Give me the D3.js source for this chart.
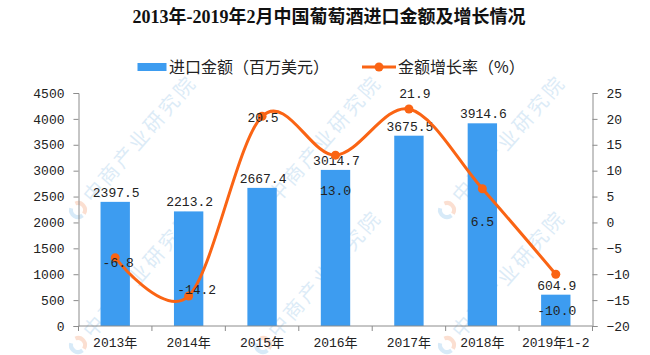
<!DOCTYPE html>
<html>
<head>
<meta charset="utf-8">
<script src="https://cdn.jsdelivr.net/npm/d3@7"></script>
<style>
  html, body { margin: 0; padding: 0; background: #fff; }
  svg { display: block; }
</style>
</head>
<body>
<svg id="chart" width="650" height="355"></svg>
<script>
// ---------------- data ----------------
const categories = ["2013年", "2014年", "2015年", "2016年", "2017年", "2018年", "2019年1-2"];
const importValues = [2397.5, 2213.2, 2667.4, 3014.7, 3675.5, 3914.6, 604.9];
const growthRates = [-6.8, -14.2, 20.5, 13.0, 21.9, 6.5, -10.0];
const leftTicks = [0, 500, 1000, 1500, 2000, 2500, 3000, 3500, 4000, 4500];
const rightTicks = [-20, -15, -10, -5, 0, 5, 10, 15, 20, 25];
const titleText = "2013年-2019年2月中国葡萄酒进口金额及增长情况";
const legendBarText = "进口金额（百万美元）";
const legendLineText = "金额增长率（%）";
const watermarkText = "中商产业研究院";

// ---------------- layout / style ----------------
const W = 650, H = 355;
const plot = { left: 78.5, right: 592.5, top: 93, bottom: 326 };
const barColor = "#3d9cf0";
const lineColor = "#fa6414";
const axisColor = "#8c8c8c";
const textColor = "#222";
const monoFont = "'Liberation Mono', 'Noto Sans CJK SC', monospace";
// label offsets (px) of the growth-rate labels relative to their points
const growthLabelOffset = [[3, 5], [8, -7], [1, 1], [0, 35], [6, -16], [0, 33], [1, 36]];
// watermark anchor points (logo positions)
const wmOrigins = [[78, 210], [263, 210], [447, 210], [78, 345], [263, 345], [447, 345]];

const svg = d3.select("#chart");

// ---------------- watermarks ----------------
const wm = svg.append("g").attr("class", "watermark");
wmOrigins.forEach(([x, y]) => {
  const g = wm.append("g").attr("transform", `translate(${x},${y}) rotate(-49)`);
  const arc = d3.arc().innerRadius(5).outerRadius(9);
  g.append("path").attr("d", arc({ startAngle: Math.PI * 0.15, endAngle: Math.PI * 0.95 }))
    .attr("fill", "#f4a27a").attr("opacity", 0.35);
  g.append("path").attr("d", arc({ startAngle: Math.PI * 1.05, endAngle: Math.PI * 1.85 }))
    .attr("fill", "#8cc3ea").attr("opacity", 0.35);
  g.append("text").attr("x", 14).attr("y", 7)
    .attr("font-family", "'Noto Sans CJK SC', sans-serif")
    .attr("font-size", 20).attr("letter-spacing", 3)
    .attr("fill", "#9cc8ea").attr("opacity", 0.35)
    .text(watermarkText);
});

// ---------------- scales ----------------
const x = d3.scaleBand().domain(categories).range([plot.left, plot.right])
  .paddingInner(0.6).paddingOuter(0.3);
const yL = d3.scaleLinear().domain([0, 4500]).range([plot.bottom, plot.top]);
const yR = d3.scaleLinear().domain([-20, 25]).range([plot.bottom, plot.top]);
const cx = c => x(c) + x.bandwidth() / 2;

// ---------------- bars ----------------
svg.append("g").selectAll("rect").data(categories).join("rect")
  .attr("x", c => x(c))
  .attr("width", x.bandwidth())
  .attr("y", (c, i) => yL(importValues[i]))
  .attr("height", (c, i) => yL(0) - yL(importValues[i]))
  .attr("fill", barColor);

// ---------------- axes ----------------
const leftAxis = svg.append("g").attr("transform", `translate(${plot.left},0)`)
  .call(d3.axisLeft(yL).tickValues(leftTicks).tickSize(5).tickPadding(9).tickFormat(d3.format("d")));
const rightAxis = svg.append("g").attr("transform", `translate(${plot.right},0)`)
  .call(d3.axisRight(yR).tickValues(rightTicks).tickSize(5).tickPadding(9).tickFormat(d => d < 0 ? "−" + Math.abs(d) : d));
// x axis: labels centered in bands, ticks at band boundaries
const xAxis = svg.append("g").attr("transform", `translate(0,${plot.bottom})`)
  .call(d3.axisBottom(x).tickSize(0).tickPadding(17));
xAxis.select(".domain").remove();
const boundaries = d3.range(categories.length + 1).map(i => plot.left + i * x.step());
svg.append("g").selectAll("line").data(boundaries).join("line")
  .attr("x1", d => d).attr("x2", d => d)
  .attr("y1", plot.bottom).attr("y2", plot.bottom + 5)
  .attr("stroke", axisColor);
svg.append("line").attr("x1", plot.left).attr("x2", plot.right)
  .attr("y1", plot.bottom).attr("y2", plot.bottom).attr("stroke", axisColor);

[leftAxis, rightAxis, xAxis].forEach(a => {
  a.selectAll(".domain").attr("stroke", axisColor);
  a.selectAll(".tick line").attr("stroke", axisColor);
  a.selectAll("text").attr("font-family", monoFont).attr("font-size", 13).attr("fill", textColor);
});
xAxis.selectAll("text").attr("dy", "0.32em");

// ---------------- bar labels ----------------
svg.append("g").selectAll("text").data(categories).join("text")
  .attr("x", c => cx(c) + 1)
  .attr("y", (c, i) => yL(importValues[i]) - 5)
  .attr("text-anchor", "middle")
  .attr("font-family", monoFont).attr("font-size", 13).attr("fill", textColor)
  .text((c, i) => importValues[i].toFixed(1));

// ---------------- growth line ----------------
const pts = categories.map((c, i) => [cx(c), yR(growthRates[i])]);
svg.append("path")
  .attr("d", d3.line().curve(d3.curveCardinal.tension(0))(pts))
  .attr("fill", "none").attr("stroke", lineColor).attr("stroke-width", 3);
svg.append("g").selectAll("circle").data(pts).join("circle")
  .attr("cx", d => d[0]).attr("cy", d => d[1]).attr("r", 4.5)
  .attr("fill", lineColor);
svg.append("g").selectAll("text").data(categories).join("text")
  .attr("x", (c, i) => pts[i][0] + growthLabelOffset[i][0])
  .attr("y", (c, i) => pts[i][1] + growthLabelOffset[i][1])
  .attr("dy", "0.35em")
  .attr("text-anchor", "middle")
  .attr("font-family", monoFont).attr("font-size", 13).attr("fill", textColor)
  .text((c, i) => growthRates[i].toFixed(1));

// ---------------- title ----------------
svg.append("text").attr("x", 329).attr("y", 23).attr("text-anchor", "middle")
  .attr("font-family", "'Liberation Serif', 'Noto Sans CJK SC', serif")
  .attr("font-weight", "bold").attr("font-size", 18).attr("fill", "#111")
  .text(titleText);

// ---------------- legend ----------------
const lg = svg.append("g").attr("font-family", "'Noto Sans CJK SC', sans-serif")
  .attr("font-size", 16).attr("fill", textColor);
lg.append("rect").attr("x", 137.5).attr("y", 63).attr("width", 29).attr("height", 8).attr("fill", barColor);
lg.append("text").attr("x", 169).attr("y", 67).attr("dy", "0.35em").text(legendBarText);
lg.append("line").attr("x1", 362).attr("x2", 396).attr("y1", 67).attr("y2", 67)
  .attr("stroke", lineColor).attr("stroke-width", 3);
lg.append("circle").attr("cx", 379).attr("cy", 67).attr("r", 4.5).attr("fill", lineColor);
lg.append("text").attr("x", 398).attr("y", 67).attr("dy", "0.35em").text(legendLineText);
</script>
</body>
</html>
